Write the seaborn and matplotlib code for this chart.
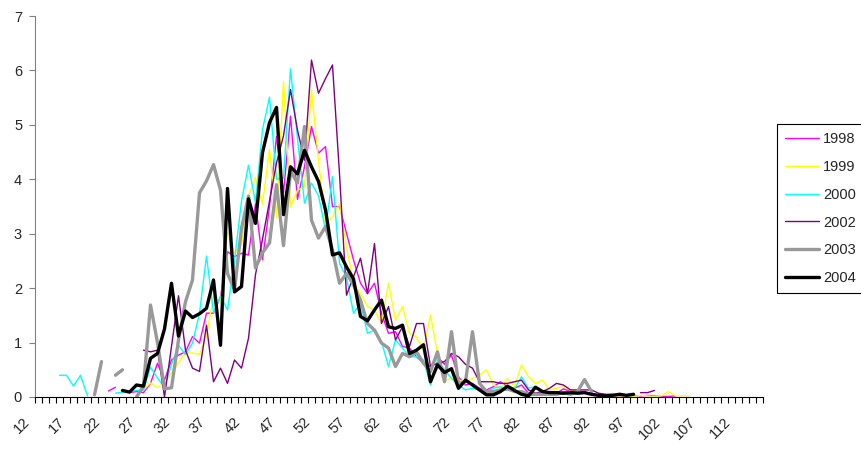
import numpy as np
import pandas as pd
import matplotlib
matplotlib.use("Agg")
import matplotlib.pyplot as plt
from matplotlib.lines import Line2D
from matplotlib.transforms import ScaledTranslation
import seaborn as sns

nan = np.nan

# ---- data (x = category value, each series starts at its own first category) ----
x_first, x_last = 12, 115
tick_labels = [str(v) for v in range(12, 113, 5)]

series_names = ["1998", "1999", "2000", "2002", "2003", "2004"]

start_1998 = 22
v_1998 = [0.11, 0.18, nan, 0.08, 0.1, 0.08, 0.25, 0.62, 0.31, 0.68, 0.77, 0.83, 1.11, 0.99,
          1.54, 1.54, 1.84, 2.67, 2.58, 2.64, 2.61, 3.55, 2.52, 3.5, 4.79, 3.75, 5.16, 3.63,
          4.23, 4.97, 4.48, 4.6, 3.5, 3.5, 3.01, 2.52, 2.09, 1.9, 2.09, 1.54, 1.17, 1.2, 0.93,
          0.9, 0.74, 0.62, 0.56, 0.74, 0.6, 0.77, 0.37, 0.22, 0.25, 0.16, 0.13, 0.19, 0.28,
          0.19, 0.16, 0.22, 0.07, 0.04, 0.1, 0.1, 0.07, 0.15, 0.1, 0.12, 0.08, 0.05, 0.04,
          0.03, 0.02, 0.02, 0.02, 0.03, 0.02, 0.03, 0.02, 0.01, 0.01, 0.02]

start_1999 = 27
v_1999 = [0.13, 0.26, 0.17, 0.26, 0.44, 0.63, 0.81, 0.81, 0.78, 1.12, 1.85, 1.73, 3.02, 2.65,
          2.8, 3.69, 4.03, 3.54, 4.55, 3.29, 5.8, 3.5, 3.8, 3.86, 5.64, 4.35, 3.19, 3.31, 3.56,
          2.76, 2.09, 1.9, 1.66, 1.6, 1.35, 2.09, 1.41, 1.66, 1.17, 1.1, 0.86, 1.51, 0.8, 0.3,
          0.34, 0.31, 0.28, 0.34, 0.4, 0.5, 0.22, 0.16, 0.34, 0.19, 0.59, 0.37, 0.25, 0.31,
          0.13, 0.16, 0.19, 0.13, 0.1, 0.08, 0.05, 0.04, 0.03, 0.02, 0.02, 0.01, 0.01, 0.03,
          0.02, 0.01, 0.02, 0.1, 0.02, 0.02, 0.02]

start_2000 = 15
v_2000 = [0.4, 0.4, 0.2, 0.4, 0.02, nan, nan, nan, 0.07, 0.09, 0.1, 0.12, 0.12, 0.55, 0.35,
          0.18, 0.6, 0.95, 0.78, 0.99, 1.54, 2.59, 1.55, 1.85, 1.6, 2.5, 3.6, 4.26, 3.57, 4.91,
          5.51, 4.0, 4.02, 6.03, 4.75, 3.56, 3.93, 3.7, 3.07, 4.05, 2.46, 2.2, 1.54, 1.72, 1.17,
          1.23, 1.02, 0.56, 1.05, 0.9, 0.74, 0.74, 0.68, 0.22, 0.68, 0.5, 0.34, 0.22, 0.13,
          0.16, 0.13, 0.1, 0.16, 0.19, 0.12, 0.15, 0.37, 0.16, 0.19, 0.08, 0.05, 0.06, 0.05,
          0.08, 0.05, 0.1, 0.05, 0.05]

start_2002 = 27
v_2002 = [0.86, 0.83, 0.86, 0.0, 0.93, 1.86, 0.86, 0.53, 0.47, 1.32, 0.28, 0.53, 0.25, 0.68,
          0.53, 1.08, 2.25, 2.9, 3.6, 4.3, 4.8, 5.65, 4.9, 4.35, 6.19, 5.58, 5.85, 6.1, 4.1,
          1.87, 2.21, 2.55, 1.9, 2.82, 1.35, 1.66, 1.05, 1.29, 0.93, 1.35, 1.35, 0.56, 0.62,
          0.65, 0.8, 0.74, 0.6, 0.53, 0.28, 0.28, 0.28, 0.25, 0.25, 0.28, 0.31, 0.13, 0.07,
          0.1, 0.16, 0.25, 0.22, 0.13, 0.13, 0.13, 0.13, 0.07, 0.05, 0.05, 0.03, nan, nan,
          0.08, 0.08, 0.12]

start_2003 = 20
v_2003 = [0.04, 0.65, nan, 0.4, 0.5, nan, 0.0, 0.2, 1.69, 1.0, 0.15, 0.17, 1.05, 1.75, 2.15,
          3.75, 3.97, 4.27, 3.8, 2.27, 1.97, 3.1, 3.69, 2.37, 2.65, 2.83, 3.9, 2.78, 4.15, 3.93,
          4.97, 3.25, 2.92, 3.13, 2.7, 2.09, 2.27, 2.06, 1.78, 1.35, 1.23, 0.99, 0.9, 0.56,
          0.8, 0.74, 0.83, 0.62, 0.47, 0.83, 0.28, 1.2, 0.25, 0.28, 1.2, 0.25, 0.1, 0.1, 0.13,
          0.15, 0.1, 0.1, 0.05, 0.05, 0.05, 0.05, 0.05, 0.08, 0.05, 0.1, 0.32, 0.1]

start_2004 = 24
v_2004 = [0.12, 0.09, 0.22, 0.2, 0.71, 0.8, 1.25, 2.09, 1.12, 1.58, 1.46, 1.53, 1.63, 2.15,
          0.95, 3.83, 1.93, 2.03, 3.64, 3.19, 4.49, 5.04, 5.32, 3.35, 4.23, 4.1, 4.53, 4.23,
          3.96, 3.44, 2.61, 2.65, 2.39, 2.17, 1.48, 1.4, 1.6, 1.78, 1.29, 1.26, 1.32, 0.8,
          0.86, 0.96, 0.28, 0.59, 0.45, 0.52, 0.16, 0.31, 0.22, 0.13, 0.04, 0.04, 0.1, 0.2,
          0.12, 0.05, 0.02, 0.18, 0.1, 0.08, 0.08, 0.07, 0.08, 0.07, 0.08, 0.05, 0.03, 0.02,
          0.03, 0.05, 0.03, 0.05]

starts = [start_1998, start_1999, start_2000, start_2002, start_2003, start_2004]
values = [v_1998, v_1999, v_2000, v_2002, v_2003, v_2004]

colors = ["#FF00FF", "#FFFF00", "#00FFFF", "#800080", "#999999", "#000000"]
widths = [1.0, 1.0, 1.0, 1.0, 2.4, 2.4]

# ---- figure ----
sns.set_style("white")
plt.rcParams["font.family"] = ["Liberation Sans", "DejaVu Sans"]
plt.rcParams["font.size"] = 10

fig = plt.figure(figsize=(8.62, 4.49), dpi=100)
ax = fig.add_axes([35 / 862, 1 - 397 / 449, (763 - 35) / 862, (397 - 16) / 449])

for name, st, vals, c, lw in zip(series_names, starts, values, colors, widths):
    y = np.array(vals, dtype=float)
    x = np.arange(st, st + len(y))
    seg = np.cumsum(np.isnan(y))
    df = pd.DataFrame({"x": x, "y": y, "seg": seg}).dropna()
    sns.lineplot(data=df, x="x", y="y", units="seg", estimator=None, color=c,
                 linewidth=lw, ax=ax, legend=False)

ax.set_xlim(x_first - 0.5, x_last + 0.5)
ax.set_ylim(0, 7)
ax.set_xlabel("")
ax.set_ylabel("")

ax.set_xticks(range(12, 113, 5))
ax.set_xticklabels(tick_labels, rotation=45, ha="right", va="top")
ax.set_xticks(np.arange(x_first - 0.5, x_last + 0.6, 1), minor=True)
ax.tick_params(axis="x", which="major", length=0, pad=13, labelsize=10.5)
ax.tick_params(axis="x", which="minor", length=4.3, width=0.8, direction="out",
               color="black", bottom=True)
off = ScaledTranslation(-4 / 72, 0, fig.dpi_scale_trans)
for lab in ax.get_xticklabels():
    lab.set_transform(lab.get_transform() + off)

ax.set_yticks(range(0, 8))
ax.tick_params(axis="y", which="major", length=4.3, width=0.8, direction="out",
               color="#808080", left=True, pad=5, labelsize=10.5)

for s in ["top", "right"]:
    ax.spines[s].set_visible(False)
ax.spines["left"].set_color("#808080")
ax.spines["left"].set_linewidth(0.8)
ax.spines["bottom"].set_color("black")
ax.spines["bottom"].set_linewidth(0.8)

handles = [Line2D([0], [0], color=c, lw=lw) for c, lw in zip(colors, widths)]
leg = fig.legend(handles, series_names, loc="upper left",
                 bbox_to_anchor=(777 / 862, 1 - 124 / 449), frameon=True, fancybox=False,
                 edgecolor="black", framealpha=1, borderaxespad=0, borderpad=0.55,
                 handlelength=2.3, handletextpad=0.3, labelspacing=0.95, fontsize=10.5)
leg.get_frame().set_linewidth(0.8)

fig.savefig("out.png", dpi=100)
